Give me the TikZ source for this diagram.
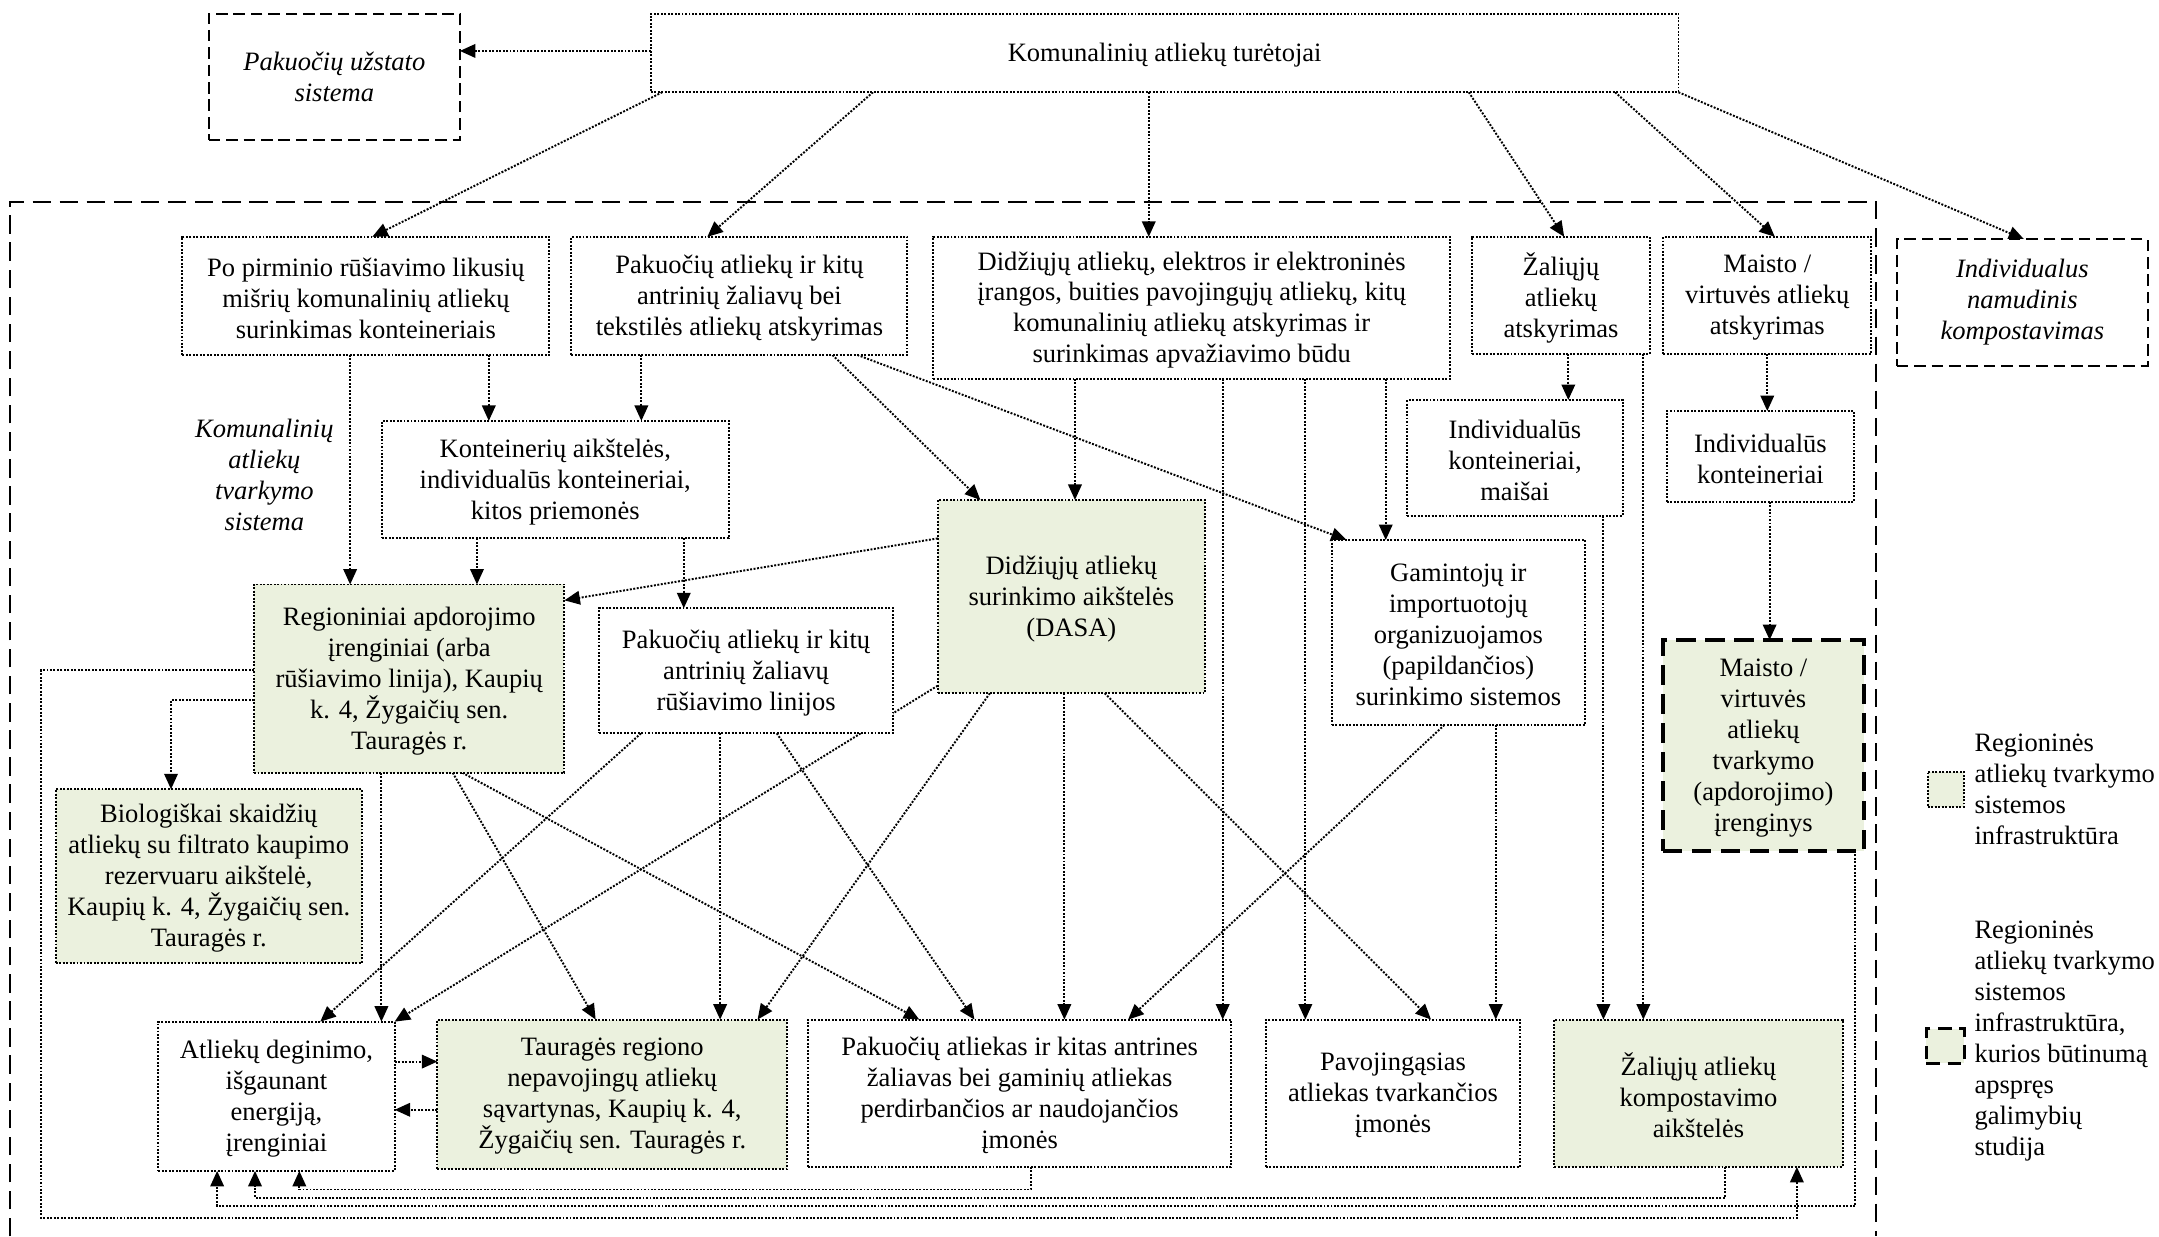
\documentclass[tikz,border=0pt]{standalone}
\usepackage{fontspec}
\setmainfont{Liberation Serif}
\usetikzlibrary{arrows.meta,fit,calc}
\definecolor{gfill}{HTML}{EBF1DE}
\newcommand\boxfont{\fontsize{13.7pt}{16pt}\selectfont}
\newcommand\boxtext[2]{\node[plain,align=center] (#1t) at ([yshift=-0.4mm]#1.center) {#2};}
\newcommand\boxtexti[2]{\node[plain,align=center,font=\boxfont\itshape] (#1t) at (#1.center) {#2};}
\pgfdeclarelayer{background}
\pgfsetlayers{background,main}
\begin{document}
\begin{tikzpicture}[x=0.25mm,y=-0.25mm,
 dotln/.style={line width=1pt,dash pattern=on 1pt off 0.8pt},
 box/.style={draw,dotln,fill=white,inner sep=0pt,outer sep=0pt},
 gbox/.style={box,fill=gfill},
 dbox/.style={draw,line width=1pt,dash pattern=on 6pt off 3pt,fill=white,inner sep=0pt,outer sep=0pt},
 tbox/.style={draw,line width=1.8pt,dash pattern=on 10pt off 5pt,fill=gfill,inner sep=0pt,outer sep=0pt},
 conn/.style={dotln,-{Triangle[length=8pt,width=7pt]}},
 plain/.style={inner sep=0pt,outer sep=0pt,font=\boxfont},
]
\useasboundingbox (0,0) rectangle (1568,898);

% outer system frame
\draw[line width=1pt,dash pattern=on 9.5pt off 4.5pt] (7.5,898) -- (7.5,146.5) -- (1362.5,146.5) -- (1362.5,898);

% boxes
\node[dbox,fit={(151.6,10) (334,101.7)}] (dep) {};
\node[box,fit={(472.7,10) (1219,67)}] (kom) {};
\node[dbox,fit={(1377.5,173.8) (1560,265.6)}] (ind) {};
\node[box,fit={(132.5,172) (399,257.8)}] (pp) {};
\node[box,fit={(415,172) (659,257.8)}] (pa) {};
\node[box,fit={(677.7,172) (1053.2,275.2)}] (dd) {};
\node[box,fit={(1069.2,172) (1198.2,257)}] (za) {};
\node[box,fit={(1208,172) (1359,257)}] (ma) {};
\node[box,fit={(277.3,305.7) (529.2,391)}] (kont) {};
\node[gbox,fit={(184.5,424.5) (409.9,561.2)}] (reg) {};
\node[box,fit={(435.2,441.8) (648.5,532.6)}] (prl) {};
\node[gbox,fit={(681,363.1) (875.2,503.5)}] (dasa) {};
\node[box,fit={(1022,290.5) (1178.5,374.7)}] (ikm) {};
\node[box,fit={(1210.5,298.5) (1346.5,364.3)}] (ik) {};
\node[box,fit={(967.3,392.2) (1151,526.5)}] (gam) {};
\node[tbox,fit={(1207.6,464.8) (1353.8,618)}] (mt) {};
\node[gbox,fit={(40.4,573.2) (262.8,699.6)}] (bio) {};
\node[box,fit={(115,742) (286.6,850.4)}] (deg) {};
\node[gbox,fit={(317.6,740.5) (571.7,849)}] (taur) {};
\node[box,fit={(586.7,740.5) (894.3,847.5)}] (pak) {};
\node[box,fit={(919.3,740.5) (1104,847.5)}] (pav) {};
\node[gbox,fit={(1128.8,740.5) (1338.2,847.5)}] (zk) {};

% texts
\boxtexti{dep}{Pakuočių užstato\\sistema}
\boxtext{kom}{Komunalinių atliekų turėtojai}
\boxtexti{ind}{Individualus\\namudinis\\kompostavimas}
\boxtext{pp}{Po pirminio rūšiavimo likusių\\mišrių komunalinių atliekų\\surinkimas konteineriais}
\boxtext{pa}{Pakuočių atliekų ir kitų\\antrinių žaliavų bei\\tekstilės atliekų atskyrimas}
\boxtext{dd}{Didžiųjų atliekų, elektros ir elektroninės\\įrangos, buities pavojingųjų atliekų, kitų\\komunalinių atliekų atskyrimas ir\\surinkimas apvažiavimo būdu}
\boxtext{za}{Žaliųjų\\atliekų\\atskyrimas}
\boxtext{ma}{Maisto /\\virtuvės atliekų\\atskyrimas}
\boxtext{kont}{Konteinerių aikštelės,\\individualūs konteineriai,\\kitos priemonės}
\boxtext{reg}{Regioniniai apdorojimo\\įrenginiai (arba\\rūšiavimo linija), Kaupių\\k. 4, Žygaičių sen.\\Tauragės r.}
\boxtext{prl}{Pakuočių atliekų ir kitų\\antrinių žaliavų\\rūšiavimo linijos}
\boxtext{dasa}{Didžiųjų atliekų\\surinkimo aikštelės\\(DASA)}
\boxtext{ikm}{Individualūs\\konteineriai,\\maišai}
\boxtext{ik}{Individualūs\\konteineriai}
\boxtext{gam}{Gamintojų ir\\importuotojų\\organizuojamos\\(papildančios)\\surinkimo sistemos}
\boxtext{mt}{Maisto /\\virtuvės\\atliekų\\tvarkymo\\(apdorojimo)\\įrenginys}
\boxtext{bio}{Biologiškai skaidžių\\atliekų su filtrato kaupimo\\rezervuaru aikštelė,\\Kaupių k. 4, Žygaičių sen.\\Tauragės r.}
\boxtext{deg}{Atliekų deginimo,\\išgaunant\\energiją,\\įrenginiai}
\boxtext{taur}{Tauragės regiono\\nepavojingų atliekų\\sąvartynas, Kaupių k. 4,\\Žygaičių sen. Tauragės r.}
\boxtext{pak}{Pakuočių atliekas ir kitas antrines\\žaliavas bei gaminių atliekas\\perdirbančios ar naudojančios\\įmonės}
\boxtext{pav}{Pavojingąsias\\atliekas tvarkančios\\įmonės}
\boxtext{zk}{Žaliųjų atliekų\\kompostavimo\\aikštelės}

\node[plain,align=center,font=\boxfont\itshape] (ksys) at (192,345) {Komunalinių\\atliekų\\tvarkymo\\sistema};

% legend
\node[gbox,fit={(1400,560.5) (1426.3,585.8)}] (leg1) {};
\node[plain,anchor=west,align=left] (leg1t) at (1434,573) {Regioninės\\atliekų tvarkymo\\sistemos\\infrastruktūra};
\node[tbox,line width=1.6pt,dash pattern=on 7pt off 4pt,fit={(1399,747) (1426.5,772.2)}] (leg2) {};
\node[plain,anchor=west,align=left] (leg2t) at (1434,756) {Regioninės\\atliekų tvarkymo\\sistemos\\infrastruktūra,\\kurios būtinumą\\apspręs\\galimybių\\studija};

\coordinate (lpA) at (30,884.8);

\begin{pgfonlayer}{background}
\draw[conn] (kom.west |- 0,37) -- (dep.east |- 0,37);
\draw[conn] (kom.south -| 481,0) -- (pp.north -| 270.4,0);
\draw[conn] (kom.south -| 634,0) -- (pa.north -| 513.7,0);
\draw[conn] (kom.south -| 834.3,0) -- (dd.north -| 834.3,0);
\draw[conn] (kom.south -| 1066.7,0) -- (za.north -| 1136,0);
\draw[conn] (kom.south -| 1173,0) -- (ma.north -| 1289,0);
\draw[conn] (kom.south east) -- (ind.north -| 1470,0);

\draw[conn] (pp.south -| 254.3,0) -- (reg.north -| 254.3,0);
\draw[conn] (pp.south -| 355,0) -- (kont.north -| 355,0);
\draw[conn] (pa.south -| 465.8,0) -- (kont.north -| 465.8,0);
\draw[conn] (pa.south -| 604.6,0) -- (dasa.north -| 712,0);
\draw[conn] (pa.south -| 622.7,0) -- (gam.north -| 978,0);
\draw[conn] (dd.south -| 780.7,0) -- (dasa.north -| 780.7,0);
\draw[conn] (dd.south -| 888,0) -- (pak.north -| 888,0);
\draw[conn] (dd.south -| 948,0) -- (pav.north -| 948,0);
\draw[conn] (dd.south -| 1006.4,0) -- (gam.north -| 1006.4,0);
\draw[conn] (za.south -| 1139,0) -- (ikm.north -| 1139,0);
\draw[conn] (za.south -| 1193.5,0) -- (zk.north -| 1193.5,0);
\draw[conn] (ma.south -| 1283.5,0) -- (ik.north -| 1283.5,0);
\draw[conn] (ikm.south -| 1164.5,0) -- (zk.north -| 1164.5,0);
\draw[conn] (ik.south -| 1285.2,0) -- (mt.north -| 1285.2,0);
\draw[conn] (kont.south -| 346.4,0) -- (reg.north -| 346.4,0);
\draw[conn] (kont.south -| 496.6,0) -- (prl.north -| 496.6,0);
\draw[conn] (dasa.west |- 0,391) -- (reg.east |- 0,436);

\draw[conn] (reg.south -| 277,0) -- (deg.north -| 277,0);
\draw[conn] (reg.south -| 328.8,0) -- (taur.north -| 432.6,0);
\draw[conn] (reg.south -| 335.8,0) -- (pak.north -| 667.7,0);
\draw[conn] (prl.south -| 465.5,0) -- (deg.north -| 232.6,0);
\draw[conn] (prl.south -| 523,0) -- (taur.north -| 523,0);
\draw[conn] (prl.south -| 564.1,0) -- (pak.north -| 707.7,0);
\draw[conn] (dasa.west |- 0,498) -- (deg.north east);
\draw[conn] (dasa.south -| 718.9,0) -- (taur.north -| 550.2,0);
\draw[conn] (dasa.south -| 773,0) -- (pak.north -| 773,0);
\draw[conn] (dasa.south -| 802.3,0) -- (pav.north -| 1039.3,0);
\draw[conn] (gam.south -| 1049,0) -- (pak.north -| 819.3,0);
\draw[conn] (gam.south -| 1086.3,0) -- (pav.north -| 1086.3,0);

\draw[conn] (deg.east |- 0,771) -- (taur.west |- 0,771);
\draw[conn] (taur.west |- 0,806) -- (deg.east |- 0,806);
\draw[conn] (reg.west |- 0,508.4) -| (bio.north -| 124.2,0);
\draw[conn] (reg.west |- 0,486.6) -| (lpA) -| (zk.south -| 1305,0);
\draw[conn] (pak.south -| 748.8,0) -- ++(0,16.4) -| (deg.south -| 217.4,0);
\draw[conn] (zk.south -| 1253,0) -- ++(0,22.3) -| (deg.south -| 185.2,0);
\draw[conn] (mt.south -| 1347.5,0) -- ++(0,257.9) -| (deg.south -| 157.7,0);
\end{pgfonlayer}
\end{tikzpicture}
\end{document}
